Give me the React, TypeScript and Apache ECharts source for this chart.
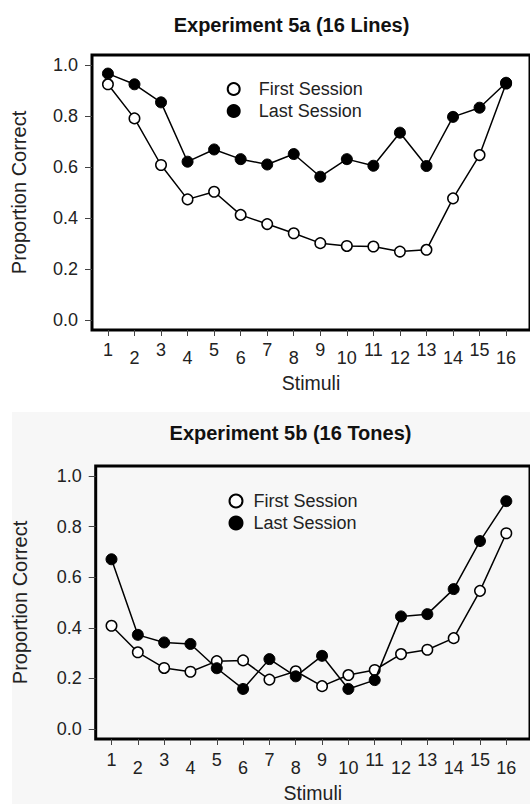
import React, { useEffect, useRef } from "react";
import * as echarts from "echarts";

const stimuli = [1, 2, 3, 4, 5, 6, 7, 8, 9, 10, 11, 12, 13, 14, 15, 16];
const oddStimuli = [1, 3, 5, 7, 9, 11, 13, 15];
const evenStimuli = [2, 4, 6, 8, 10, 12, 14, 16];
const yTicks = [0, 0.2, 0.4, 0.6, 0.8, 1.0];

const titles = ["Experiment 5a (16 Lines)", "Experiment 5b (16 Tones)"];
const seriesNames = ["First Session", "Last Session"];

const linesFirst = [0.925, 0.791, 0.608, 0.473, 0.503, 0.412, 0.376, 0.340, 0.301, 0.290, 0.288, 0.268, 0.275, 0.477, 0.647, 0.928];
const linesLast = [0.967, 0.925, 0.854, 0.621, 0.669, 0.631, 0.610, 0.651, 0.562, 0.631, 0.605, 0.735, 0.604, 0.797, 0.833, 0.931];
const tonesFirst = [0.408, 0.303, 0.241, 0.226, 0.268, 0.271, 0.195, 0.228, 0.169, 0.213, 0.233, 0.296, 0.313, 0.359, 0.546, 0.774];
const tonesLast = [0.671, 0.372, 0.342, 0.336, 0.240, 0.158, 0.276, 0.208, 0.289, 0.158, 0.193, 0.445, 0.454, 0.553, 0.743, 0.901];

const FONT = "'Liberation Sans', Arial, Helvetica, sans-serif";

export default function App() {
  const ref = useRef<HTMLDivElement>(null);

  useEffect(() => {
    if (!ref.current) return;
    const chart = echarts.init(ref.current, undefined, { renderer: "svg" });

    const grids = [
      { left: 92, top: 55, width: 441, height: 275 },
      { left: 95.7, top: 466, width: 440, height: 274 },
    ];
    const labelMargins = [
      [11, 19],
      [12, 20],
    ];
    const nameGaps = [
      [43, 63],
      [44, 66],
    ];

    const xAxes: any[] = [];
    const yAxes: any[] = [];
    grids.forEach((g, i) => {
      xAxes.push({
        type: "value",
        gridIndex: i,
        min: 0.4,
        max: 16.9,
        position: "bottom",
        axisLine: { show: false, onZero: false },
        axisTick: {
          show: true,
          customValues: stimuli,
          length: 6,
          lineStyle: { color: "#444", width: 1 },
        },
        axisLabel: {
          customValues: oddStimuli,
          margin: labelMargins[i][0],
          fontSize: 18,
          color: "#222",
          fontFamily: FONT,
        },
        splitLine: { show: false },
        name: "Stimuli",
        nameLocation: "middle",
        nameGap: nameGaps[i][0],
        nameTextStyle: { fontSize: 19.5, color: "#222", fontFamily: FONT },
      });
      xAxes.push({
        type: "value",
        gridIndex: i,
        min: 0.4,
        max: 16.9,
        position: "bottom",
        offset: 0,
        axisLine: { show: false, onZero: false },
        axisTick: { show: false },
        axisLabel: {
          customValues: evenStimuli,
          margin: labelMargins[i][1],
          fontSize: 18,
          color: "#222",
          fontFamily: FONT,
        },
        splitLine: { show: false },
      });
      yAxes.push({
        type: "value",
        gridIndex: i,
        min: -0.04,
        max: 1.04,
        axisLine: { show: false, onZero: false },
        axisTick: {
          show: true,
          customValues: yTicks,
          length: 7,
          lineStyle: { color: "#444", width: 1 },
        },
        axisLabel: {
          customValues: yTicks,
          formatter: (v: number) => v.toFixed(1),
          margin: 14,
          fontSize: 18,
          color: "#222",
          fontFamily: FONT,
        },
        splitLine: { show: false },
        name: "Proportion Correct",
        nameLocation: "middle",
        nameGap: nameGaps[i][1],
        nameRotate: 90,
        nameTextStyle: { fontSize: 20, color: "#222", fontFamily: FONT },
      });
    });

    const openStyle = { color: "#fff", borderColor: "#000", borderWidth: 1.5 };
    const filledStyle = { color: "#000", borderColor: "#000", borderWidth: 1 };

    const mkSeries = (name: string, data: number[], gi: number, filled: boolean) => ({
      type: "line",
      name,
      xAxisIndex: gi * 2,
      yAxisIndex: gi,
      data: stimuli.map((s, k) => [s, data[k]]),
      symbol: "circle",
      symbolSize: filled ? 11 : 10.5,
      showSymbol: true,
      lineStyle: { color: "#000", width: 1.5 },
      itemStyle: filled ? filledStyle : openStyle,
      z: filled ? 3 : 2,
    });

    const option: any = {
      animation: false,
      backgroundColor: "#fff",
      textStyle: { fontFamily: FONT },
      title: [
        {
          text: titles[0],
          left: 286.5,
          top: 10,
          textAlign: "center",
          textStyle: { fontSize: 20, fontWeight: "bold", color: "#111", fontFamily: FONT },
        },
        {
          text: titles[1],
          left: 285.5,
          top: 418,
          textAlign: "center",
          textStyle: { fontSize: 20, fontWeight: "bold", color: "#111", fontFamily: FONT },
        },
      ],
      legend: [
        {
          orient: "vertical",
          left: 221.7,
          top: 75,
          itemWidth: 12,
          itemHeight: 12,
          itemGap: 4,
          icon: "circle",
          data: seriesNames,
          textStyle: { fontSize: 18, color: "#222", fontFamily: FONT, padding: [0, 0, 0, 14] },
          selectedMode: false,
        },
        {
          orient: "vertical",
          left: 223.5,
          top: 487,
          itemWidth: 13,
          itemHeight: 13,
          itemGap: 4,
          icon: "circle",
          data: seriesNames,
          textStyle: { fontSize: 18, color: "#222", fontFamily: FONT, padding: [0, 0, 0, 6] },
          selectedMode: false,
        },
      ],
      graphic: [
        {
          type: "rect",
          z: -10,
          shape: { x: 12, y: 412, width: 530, height: 400 },
          style: { fill: "#f7f7f7" },
        },
      ],
      grid: grids.map((g) => ({
        ...g,
        show: true,
        borderColor: "#000",
        borderWidth: 3,
        backgroundColor: "transparent",
        containLabel: false,
      })),
      xAxis: xAxes,
      yAxis: yAxes,
      series: [
        mkSeries(seriesNames[0], linesFirst, 0, false),
        mkSeries(seriesNames[1], linesLast, 0, true),
        mkSeries(seriesNames[0], tonesFirst, 1, false),
        mkSeries(seriesNames[1], tonesLast, 1, true),
      ],
    };

    chart.setOption(option);
    return () => chart.dispose();
  }, []);

  return (
    <div
      ref={ref}
      style={{ position: "fixed", left: 0, top: 0, width: 530, height: 804 }}
    />
  );
}
